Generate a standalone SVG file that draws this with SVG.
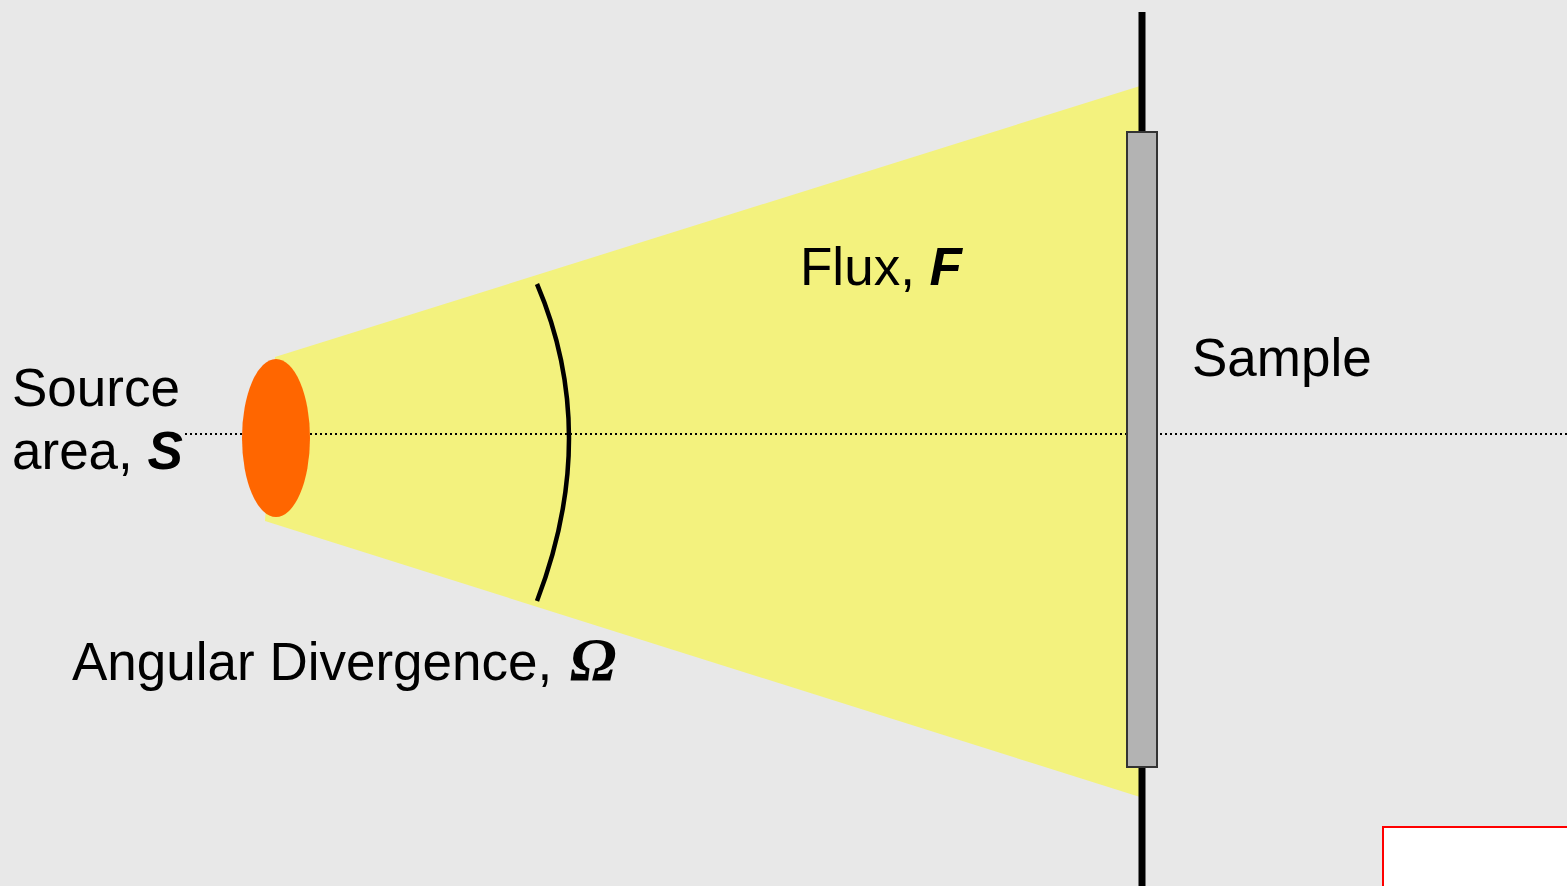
<svg xmlns="http://www.w3.org/2000/svg" width="1567" height="886" viewBox="0 0 1567 886">
<style>
.lbl{font-family:"Liberation Sans",Arial,sans-serif;font-size:53px;fill:#000}
.bi{font-weight:bold;font-style:italic}
.om{font-family:"Liberation Serif","Times New Roman",serif;font-weight:bold;font-style:italic;font-size:62px}
</style>
<rect x="0" y="0" width="1567" height="886" fill="#e8e8e8"/>
<g id="beam">
<polygon points="275,357 1140,86 1140,797 265,521" fill="#f3f27e"/>
</g>
<g id="connectors">
<line x1="185" y1="434" x2="1567" y2="434" stroke="#000" stroke-width="2" stroke-dasharray="2,3"/>
<path d="M537,284 Q601,434 537,601" fill="none" stroke="#000" stroke-width="4.5"/>
</g>
<g id="source">
<ellipse cx="276" cy="438" rx="34" ry="79" fill="#ff6600"/>
</g>
<g id="sample-holder">
<line x1="1142" y1="12" x2="1142" y2="886" stroke="#000" stroke-width="7"/>
<rect x="1127" y="132" width="30" height="635" fill="#b3b3b3" stroke="#333" stroke-width="2"/>
</g>
<g id="red-box">
<rect x="1383" y="827" width="200" height="80" fill="#fff" stroke="#ff0000" stroke-width="2"/>
</g>
<g id="labels">
<text class="lbl" x="800" y="285">Flux, <tspan class="bi">F</tspan></text>
<text class="lbl" x="1192" y="376">Sample</text>
<text class="lbl" x="12" y="406">Source</text>
<text class="lbl" x="12" y="469">area, <tspan class="bi">S</tspan></text>
<text class="lbl" x="72" y="680">Angular Divergence, <tspan class="om" dx="3">Ω</tspan></text>
</g>
</svg>
